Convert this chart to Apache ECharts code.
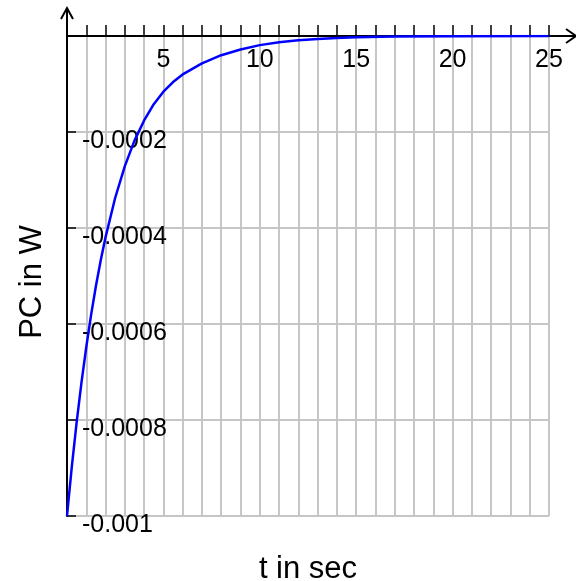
<!DOCTYPE html>
<html>
<head>
<meta charset="utf-8">
<script src="https://cdn.jsdelivr.net/npm/echarts@6/dist/echarts.min.js"></script>
<style>
html,body{margin:0;padding:0;background:#fff;}
#chart{width:576px;height:581px;}
</style>
</head>
<body>
<div id="chart"></div>
<script>
// Data
var tValues = [0, 0.25, 0.5, 0.75, 1, 1.25, 1.5, 1.75, 2, 2.5, 3, 3.5, 4, 4.5, 5, 5.5, 6, 7, 8, 9, 10, 11, 12, 13, 14, 15, 17, 20, 25];
var pcValues = [-0.001, -0.000897, -0.000805, -0.000722, -0.000648, -0.000581, -0.000521, -0.000467, -0.000419,
  -0.000337, -0.000271, -0.000218, -0.000176, -0.000142, -0.000116, -0.000096, -0.000080, -0.000057, -0.000040,
  -0.000028, -0.000019, -0.000013, -0.000009, -0.000006, -0.000004, -0.0000025, -0.000001, -0.0000003, 0];
var xTickLabels = [5, 10, 15, 20, 25];
var yTickLabels = [-0.0002, -0.0004, -0.0006, -0.0008, -0.001];
var xTitle = 't in sec';
var yTitle = 'PC in W';

var FONT = '"Liberation Sans", Arial, sans-serif';
var chart = echarts.init(document.getElementById('chart'), null, {renderer: 'canvas'});

var seriesData = tValues.map(function (t, i) { return [t, pcValues[i]]; });

var option = {
  animation: false,
  backgroundColor: '#ffffff',
  grid: {left: 67, right: 27, top: 36, bottom: 65, containLabel: false, outerBoundsMode: 'none'},
  xAxis: [{
    type: 'value', min: 0, max: 25, interval: 1, position: 'top',
    axisLine: {show: true, onZero: false, lineStyle: {color: '#000', width: 2}},
    axisTick: {show: true, inside: false, length: 11, lineStyle: {color: '#000', width: 1.5}},
    axisLabel: {
      show: true, inside: true, margin: 12, color: '#000', fontSize: 25, fontFamily: FONT,
      formatter: function (v) { return xTickLabels.indexOf(Math.round(v)) >= 0 && Math.abs(v - Math.round(v)) < 1e-9 ? String(Math.round(v)) : ''; }
    },
    splitLine: {show: true, lineStyle: {color: '#c6c6c6', width: 2}}
  }, {
    type: 'value', min: 0, max: 25, position: 'bottom',
    name: xTitle, nameLocation: 'middle', nameGap: 38,
    nameTextStyle: {color: '#000', fontSize: 31, fontFamily: FONT},
    axisLine: {show: false}, axisTick: {show: false}, axisLabel: {show: false}, splitLine: {show: false}
  }],
  yAxis: {
    type: 'value', min: -0.001, max: 0, interval: 0.0002, position: 'left',
    name: yTitle, nameLocation: 'middle', nameGap: 19, nameRotate: 90,
    nameTextStyle: {color: '#000', fontSize: 31, fontFamily: FONT, padding: [0, 12, 0, 0]},
    axisLine: {show: true, onZero: false, lineStyle: {color: '#000', width: 2}},
    axisTick: {show: true, inside: true, length: 9, lineStyle: {color: '#000', width: 1.5}},
    axisLabel: {
      show: true, inside: true, margin: 15, color: '#000', fontSize: 25, fontFamily: FONT,
      align: 'left', verticalAlign: 'top', lineHeight: 18,
      formatter: function (v) {
        if (Math.abs(v) < 1e-9) return '';
        var r = Number(v.toFixed(4));
        return yTickLabels.indexOf(r) >= 0 ? String(r) : '';
      }
    },
    splitLine: {show: true, lineStyle: {color: '#c6c6c6', width: 2}}
  },
  series: [{
    type: 'line', data: seriesData, xAxisIndex: 0, yAxisIndex: 0,
    showSymbol: false, smooth: false,
    lineStyle: {color: '#0000ff', width: 2.5}, z: 5
  }]
};
chart.setOption(option);

// Axis arrow extensions (decoration), positioned from the axis scales
function addArrows() {
  var origin = chart.convertToPixel({xAxisIndex: 0, yAxisIndex: 0}, [0, 0]);
  var xEnd = chart.convertToPixel({xAxisIndex: 0, yAxisIndex: 0}, [25, 0]);
  var ox = origin[0], oy = origin[1];
  var xTip = xEnd[0] + 27, yTip = oy - 28;
  var st = {stroke: '#000', lineWidth: 2, fill: null};
  chart.setOption({
    graphic: [
      {type: 'polyline', shape: {points: [[xEnd[0], oy], [xTip, oy]]}, style: st, z: 10},
      {type: 'polyline', shape: {points: [[xTip - 10, oy - 7], [xTip, oy], [xTip - 10, oy + 7]]}, style: st, z: 10},
      {type: 'polyline', shape: {points: [[ox, oy], [ox, yTip]]}, style: st, z: 10},
      {type: 'polyline', shape: {points: [[ox - 6, yTip + 11], [ox, yTip], [ox + 6, yTip + 11]]}, style: st, z: 10}
    ]
  });
}
addArrows();
</script>
</body>
</html>
